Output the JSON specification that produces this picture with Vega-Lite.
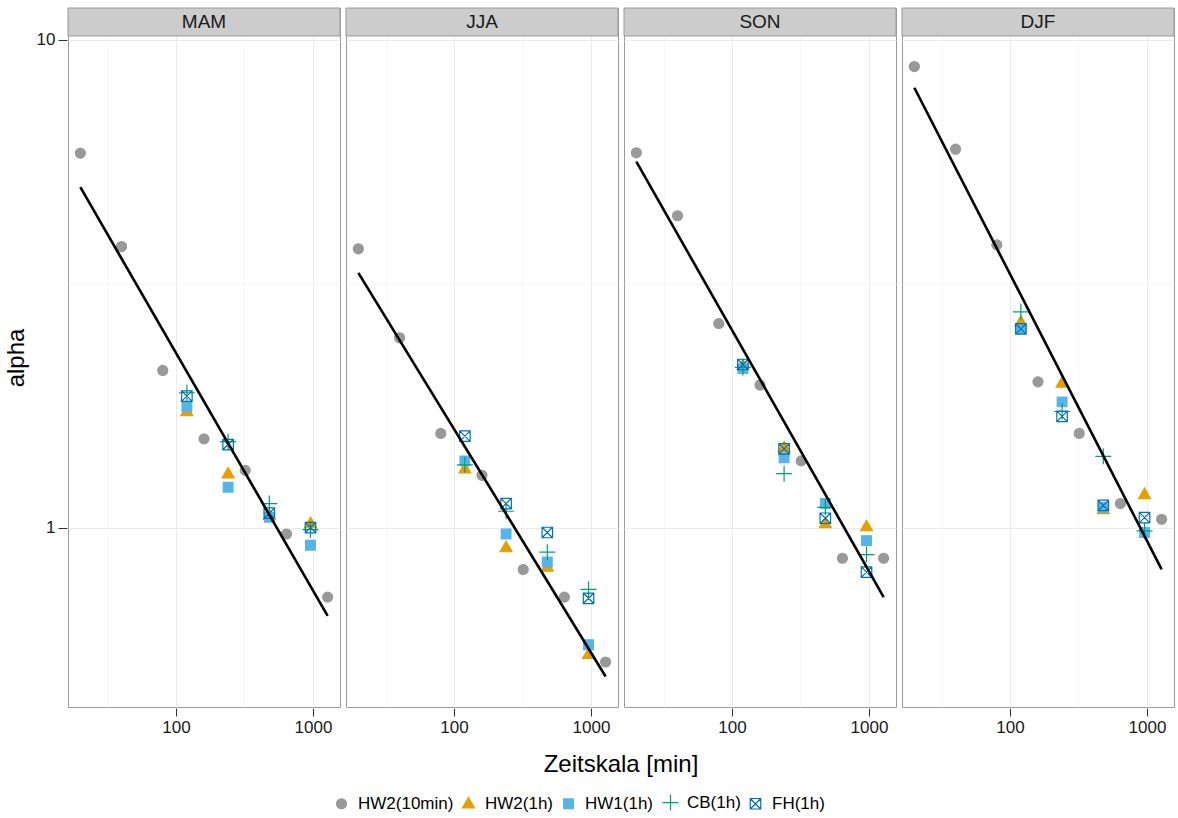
{
  "$schema": "https://vega.github.io/schema/vega-lite/v6.json",
  "padding": {"left": 4, "top": 7, "right": 3, "bottom": 5},
  "background": "white",
  "data": {"values": [
    {"season":"MAM","series":"HW2(10min)","Zeit":20,"alpha":5.86},
    {"season":"MAM","series":"HW2(10min)","Zeit":40,"alpha":3.77},
    {"season":"MAM","series":"HW2(10min)","Zeit":80,"alpha":2.10},
    {"season":"MAM","series":"HW2(10min)","Zeit":160,"alpha":1.52},
    {"season":"MAM","series":"HW2(10min)","Zeit":320,"alpha":1.31},
    {"season":"MAM","series":"HW2(10min)","Zeit":640,"alpha":0.97},
    {"season":"MAM","series":"HW2(10min)","Zeit":1280,"alpha":0.72},
    {"season":"MAM","series":"HW2(1h)","Zeit":120,"alpha":1.73},
    {"season":"MAM","series":"HW2(1h)","Zeit":240,"alpha":1.29},
    {"season":"MAM","series":"HW2(1h)","Zeit":480,"alpha":1.06},
    {"season":"MAM","series":"HW2(1h)","Zeit":960,"alpha":1.02},
    {"season":"MAM","series":"HW1(1h)","Zeit":120,"alpha":1.77},
    {"season":"MAM","series":"HW1(1h)","Zeit":240,"alpha":1.21},
    {"season":"MAM","series":"HW1(1h)","Zeit":480,"alpha":1.05},
    {"season":"MAM","series":"HW1(1h)","Zeit":960,"alpha":0.92},
    {"season":"MAM","series":"CB(1h)","Zeit":120,"alpha":1.89},
    {"season":"MAM","series":"CB(1h)","Zeit":240,"alpha":1.50},
    {"season":"MAM","series":"CB(1h)","Zeit":480,"alpha":1.12},
    {"season":"MAM","series":"CB(1h)","Zeit":960,"alpha":0.99},
    {"season":"MAM","series":"FH(1h)","Zeit":120,"alpha":1.86},
    {"season":"MAM","series":"FH(1h)","Zeit":240,"alpha":1.48},
    {"season":"MAM","series":"FH(1h)","Zeit":480,"alpha":1.07},
    {"season":"MAM","series":"FH(1h)","Zeit":960,"alpha":1.00},
    {"season":"MAM","series":"fit","Zeit":20,"alpha":4.99},
    {"season":"MAM","series":"fit","Zeit":1280,"alpha":0.659},

    {"season":"JJA","series":"HW2(10min)","Zeit":20,"alpha":3.73},
    {"season":"JJA","series":"HW2(10min)","Zeit":40,"alpha":2.45},
    {"season":"JJA","series":"HW2(10min)","Zeit":80,"alpha":1.56},
    {"season":"JJA","series":"HW2(10min)","Zeit":160,"alpha":1.28},
    {"season":"JJA","series":"HW2(10min)","Zeit":320,"alpha":0.82},
    {"season":"JJA","series":"HW2(10min)","Zeit":640,"alpha":0.72},
    {"season":"JJA","series":"HW2(10min)","Zeit":1280,"alpha":0.53},
    {"season":"JJA","series":"HW2(1h)","Zeit":120,"alpha":1.32},
    {"season":"JJA","series":"HW2(1h)","Zeit":240,"alpha":0.91},
    {"season":"JJA","series":"HW2(1h)","Zeit":480,"alpha":0.83},
    {"season":"JJA","series":"HW2(1h)","Zeit":960,"alpha":0.55},
    {"season":"JJA","series":"HW1(1h)","Zeit":120,"alpha":1.37},
    {"season":"JJA","series":"HW1(1h)","Zeit":240,"alpha":0.97},
    {"season":"JJA","series":"HW1(1h)","Zeit":480,"alpha":0.85},
    {"season":"JJA","series":"HW1(1h)","Zeit":960,"alpha":0.575},
    {"season":"JJA","series":"CB(1h)","Zeit":120,"alpha":1.345},
    {"season":"JJA","series":"CB(1h)","Zeit":240,"alpha":1.08},
    {"season":"JJA","series":"CB(1h)","Zeit":480,"alpha":0.89},
    {"season":"JJA","series":"CB(1h)","Zeit":960,"alpha":0.747},
    {"season":"JJA","series":"FH(1h)","Zeit":120,"alpha":1.54},
    {"season":"JJA","series":"FH(1h)","Zeit":240,"alpha":1.12},
    {"season":"JJA","series":"FH(1h)","Zeit":480,"alpha":0.977},
    {"season":"JJA","series":"FH(1h)","Zeit":960,"alpha":0.716},
    {"season":"JJA","series":"fit","Zeit":20,"alpha":3.33},
    {"season":"JJA","series":"fit","Zeit":1280,"alpha":0.495},

    {"season":"SON","series":"HW2(10min)","Zeit":20,"alpha":5.87},
    {"season":"SON","series":"HW2(10min)","Zeit":40,"alpha":4.36},
    {"season":"SON","series":"HW2(10min)","Zeit":80,"alpha":2.62},
    {"season":"SON","series":"HW2(10min)","Zeit":160,"alpha":1.96},
    {"season":"SON","series":"HW2(10min)","Zeit":320,"alpha":1.37},
    {"season":"SON","series":"HW2(10min)","Zeit":640,"alpha":0.865},
    {"season":"SON","series":"HW2(10min)","Zeit":1280,"alpha":0.865},
    {"season":"SON","series":"HW2(1h)","Zeit":120,"alpha":2.15},
    {"season":"SON","series":"HW2(1h)","Zeit":240,"alpha":1.46},
    {"season":"SON","series":"HW2(1h)","Zeit":480,"alpha":1.02},
    {"season":"SON","series":"HW2(1h)","Zeit":960,"alpha":1.005},
    {"season":"SON","series":"HW1(1h)","Zeit":120,"alpha":2.12},
    {"season":"SON","series":"HW1(1h)","Zeit":240,"alpha":1.39},
    {"season":"SON","series":"HW1(1h)","Zeit":480,"alpha":1.12},
    {"season":"SON","series":"HW1(1h)","Zeit":960,"alpha":0.94},
    {"season":"SON","series":"CB(1h)","Zeit":120,"alpha":2.13},
    {"season":"SON","series":"CB(1h)","Zeit":240,"alpha":1.29},
    {"season":"SON","series":"CB(1h)","Zeit":480,"alpha":1.10},
    {"season":"SON","series":"CB(1h)","Zeit":960,"alpha":0.88},
    {"season":"SON","series":"FH(1h)","Zeit":120,"alpha":2.16},
    {"season":"SON","series":"FH(1h)","Zeit":240,"alpha":1.45},
    {"season":"SON","series":"FH(1h)","Zeit":480,"alpha":1.045},
    {"season":"SON","series":"FH(1h)","Zeit":960,"alpha":0.81},
    {"season":"SON","series":"fit","Zeit":20,"alpha":5.63},
    {"season":"SON","series":"fit","Zeit":1280,"alpha":0.72},

    {"season":"DJF","series":"HW2(10min)","Zeit":20,"alpha":8.82},
    {"season":"DJF","series":"HW2(10min)","Zeit":40,"alpha":5.97},
    {"season":"DJF","series":"HW2(10min)","Zeit":80,"alpha":3.80},
    {"season":"DJF","series":"HW2(10min)","Zeit":160,"alpha":1.99},
    {"season":"DJF","series":"HW2(10min)","Zeit":320,"alpha":1.56},
    {"season":"DJF","series":"HW2(10min)","Zeit":640,"alpha":1.12},
    {"season":"DJF","series":"HW2(10min)","Zeit":1280,"alpha":1.04},
    {"season":"DJF","series":"HW2(1h)","Zeit":120,"alpha":2.64},
    {"season":"DJF","series":"HW2(1h)","Zeit":240,"alpha":1.98},
    {"season":"DJF","series":"HW2(1h)","Zeit":480,"alpha":1.09},
    {"season":"DJF","series":"HW2(1h)","Zeit":960,"alpha":1.17},
    {"season":"DJF","series":"HW1(1h)","Zeit":120,"alpha":2.56},
    {"season":"DJF","series":"HW1(1h)","Zeit":240,"alpha":1.81},
    {"season":"DJF","series":"HW1(1h)","Zeit":480,"alpha":1.10},
    {"season":"DJF","series":"HW1(1h)","Zeit":960,"alpha":0.977},
    {"season":"DJF","series":"CB(1h)","Zeit":120,"alpha":2.77},
    {"season":"DJF","series":"CB(1h)","Zeit":240,"alpha":1.73},
    {"season":"DJF","series":"CB(1h)","Zeit":480,"alpha":1.40},
    {"season":"DJF","series":"CB(1h)","Zeit":960,"alpha":0.984},
    {"season":"DJF","series":"FH(1h)","Zeit":120,"alpha":2.555},
    {"season":"DJF","series":"FH(1h)","Zeit":240,"alpha":1.69},
    {"season":"DJF","series":"FH(1h)","Zeit":480,"alpha":1.11},
    {"season":"DJF","series":"FH(1h)","Zeit":960,"alpha":1.048},
    {"season":"DJF","series":"fit","Zeit":20,"alpha":7.98},
    {"season":"DJF","series":"fit","Zeit":1280,"alpha":0.821}
  ]},
  "facet": {
    "column": {
      "field": "season", "type": "nominal",
      "sort": ["MAM", "JJA", "SON", "DJF"],
      "header": {
        "labels": false,
        "title": "Zeitskala [min]",
        "titleOrient": "bottom",
        "titleFont": "Liberation Sans",
        "titleFontSize": 24,
        "titleFontWeight": "normal",
        "titleColor": "#000000",
        "titlePadding": 8
      }
    }
  },
  "spacing": 4,
  "spec": {
    "width": 272,
    "height": 699,
    "encoding": {
      "x": {
        "field": "Zeit", "type": "quantitative",
        "scale": {"type": "log", "domain": [16.25, 1576], "nice": false, "zero": false},
        "axis": {
          "title": null,
          "values": [31.623, 100, 316.23, 1000],
          "labelExpr": "datum.value == 100 ? '100' : datum.value == 1000 ? '1000' : ''",
          "tickOpacity": {"condition": {"test": "datum.value == 100 || datum.value == 1000", "value": 1}, "value": 0},
          "gridColor": {"condition": {"test": "datum.value == 100 || datum.value == 1000", "value": "#ebebeb"}, "value": "#f6f6f6"},
          "domain": false,
          "tickSize": 8,
          "tickColor": "#333333",
          "labelFont": "Liberation Sans",
          "labelFontSize": 17,
          "labelColor": "#1a1a1a",
          "labelPadding": 3
        }
      },
      "y": {
        "field": "alpha", "type": "quantitative",
        "scale": {"type": "log", "domain": [0.4285, 11.63], "nice": false, "zero": false},
        "axis": {
          "title": "alpha",
          "values": [1, 3.1623, 10],
          "labelExpr": "datum.value == 1 ? '1' : datum.value == 10 ? '10' : ''",
          "tickOpacity": {"condition": {"test": "datum.value == 1 || datum.value == 10", "value": 1}, "value": 0},
          "gridColor": {"condition": {"test": "datum.value == 1 || datum.value == 10", "value": "#ebebeb"}, "value": "#f6f6f6"},
          "domain": false,
          "tickSize": 9,
          "tickColor": "#333333",
          "labelFont": "Liberation Sans",
          "labelFontSize": 17,
          "labelColor": "#1a1a1a",
          "labelPadding": 3,
          "titleFont": "Liberation Sans",
          "titleFontSize": 24,
          "titleFontWeight": "normal",
          "titleColor": "#000000",
          "titlePadding": 8
        }
      }
    },
    "layer": [
      {
        "transform": [{"filter": "datum.series != 'fit'"}],
        "mark": {"type": "point", "filled": false, "opacity": 1, "strokeWidth": 1.2, "size": 100},
        "encoding": {
          "shape": {
            "field": "series", "type": "nominal",
            "scale": {
              "domain": ["HW2(10min)", "HW2(1h)", "HW1(1h)", "CB(1h)", "FH(1h)"],
              "range": [
                "M1,0A1,1,0,1,1,-1,0A1,1,0,1,1,1,0Z",
                "M0,-1.25L1.2,0.85L-1.2,0.85Z",
                "M-0.97,-0.97H0.97V0.97H-0.97Z",
                "M-1.6,0H1.6M0,-1.6V1.6",
                "M-1.05,-1.05H1.05V1.05H-1.05ZM-1.05,-1.05L1.05,1.05M-1.05,1.05L1.05,-1.05"
              ]
            },
            "legend": {"title": null, "orient": "none", "legendX": 265, "legendY": 786, "direction": "horizontal", "columns": 5}
          },
          "fill": {
            "field": "series", "type": "nominal",
            "scale": {
              "domain": ["HW2(10min)", "HW2(1h)", "HW1(1h)", "CB(1h)", "FH(1h)"],
              "range": ["#999999", "#E69F00", "#56B4E9", "transparent", "transparent"]
            },
            "legend": {"title": null, "orient": "none", "legendX": 265, "legendY": 786, "direction": "horizontal", "columns": 5}
          },
          "stroke": {
            "field": "series", "type": "nominal",
            "scale": {
              "domain": ["HW2(10min)", "HW2(1h)", "HW1(1h)", "CB(1h)", "FH(1h)"],
              "range": ["#999999", "#E69F00", "#56B4E9", "#009E73", "#0072B2"]
            },
            "legend": {"title": null, "orient": "none", "legendX": 265, "legendY": 786, "direction": "horizontal", "columns": 5}
          }
        }
      },
      {
        "transform": [{"filter": "datum.series == 'fit'"}],
        "mark": {"type": "line", "color": "#000000", "strokeWidth": 2.6}
      },
      {
        "transform": [{"filter": "datum.series == 'fit' && datum.Zeit == 20"}],
        "mark": {"type": "rect", "fill": "#CCCCCC", "stroke": "#9a9a9a", "strokeWidth": 1},
        "encoding": {
          "x": {"datum": 16.25, "type": "quantitative"},
          "x2": {"datum": 1576},
          "y": {"datum": 10.19, "type": "quantitative"},
          "y2": {"datum": 11.63}
        }
      },
      {
        "transform": [{"filter": "datum.series == 'fit' && datum.Zeit == 20"}],
        "mark": {"type": "text", "font": "Liberation Sans", "fontSize": 19, "color": "#1a1a1a", "baseline": "middle", "align": "center"},
        "encoding": {
          "x": {"datum": 160, "type": "quantitative"},
          "y": {"datum": 10.89, "type": "quantitative"},
          "text": {"field": "season", "type": "nominal"}
        }
      }
    ]
  },
  "config": {
    "font": "Liberation Sans",
    "view": {"stroke": "#9a9a9a", "strokeWidth": 1},
    "legend": {
      "labelFont": "Liberation Sans",
      "labelFontSize": 17,
      "labelColor": "#000000",
      "symbolSize": 100,
      "symbolStrokeWidth": 1.2,
      "labelOffset": 8,
      "columnPadding": 6,
      "padding": 0
    }
  }
}
